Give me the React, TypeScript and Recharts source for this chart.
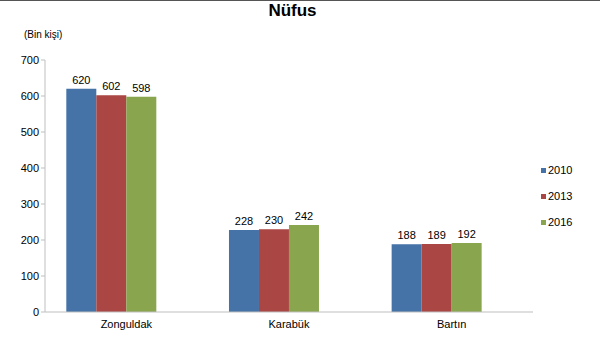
import React from "react";
import {
  BarChart,
  Bar,
  XAxis,
  YAxis,
  LabelList,
} from "recharts";

const provinces = ["Zonguldak", "Karabük", "Bartın"];
const years = ["2010", "2013", "2016"];
const pop2010 = [620, 228, 188];
const pop2013 = [602, 230, 189];
const pop2016 = [598, 242, 192];
const yTicks = [0, 100, 200, 300, 400, 500, 600, 700];
const colors = ["#4572A7", "#AA4643", "#89A54E"];

const data = provinces.map((name, i) => ({
  name,
  y2010: pop2010[i],
  y2013: pop2013[i],
  y2016: pop2016[i],
}));

const FONT = "'Liberation Sans', Arial, sans-serif";

export default function App() {
  return (
    <div
      style={{
        position: "absolute",
        left: 0,
        top: 0,
        width: 600,
        height: 356,
        background: "#fff",
        fontFamily: FONT,
      }}
    >
      {/* thin dark line at top */}
      <div
        style={{
          position: "absolute",
          left: 0,
          top: 0,
          width: 600,
          height: 1,
          background: "#555",
        }}
      />
      <div
        style={{
          position: "absolute",
          left: 0,
          top: 1,
          width: 585,
          textAlign: "center",
          fontSize: 17,
          fontWeight: "bold",
        }}
      >
        Nüfus
      </div>
      <div
        style={{
          position: "absolute",
          left: 24,
          top: 29,
          fontSize: 10,
        }}
      >
        (Bin kişi)
      </div>
      {/* legend */}
      <div
        style={{
          position: "absolute",
          left: 541,
          top: 157,
          fontSize: 11,
          color: "#000",
        }}
      >
        {years.map((y, i) => (
          <div
            key={y}
            style={{ display: "flex", alignItems: "center", height: 26 }}
          >
            <span
              style={{
                display: "inline-block",
                width: 5,
                height: 5,
                background: colors[i],
                marginRight: 2,
              }}
            />
            {y}
          </div>
        ))}
      </div>
      <BarChart
        width={600}
        height={356}
        data={data}
        margin={{ top: 60, right: 67, left: 5, bottom: 14 }}
        barCategoryGap="13.1%"
        barGap={0}
      >
        <XAxis
          xAxisId="edges"
          type="number"
          domain={[0, 3]}
          ticks={[0, 1, 2, 3]}
          tick={false}
          axisLine={false}
          tickLine={{ stroke: "#bfbfbf" }}
          tickSize={4}
          height={0}
          allowDataOverflow
        />
        <XAxis
          dataKey="name"
          axisLine={{ stroke: "#bfbfbf" }}
          tickLine={false}
          tick={{ fill: "#000", fontSize: 11, fontFamily: FONT }}
          height={30}
          interval={0}
        />
        <YAxis
          domain={[0, 700]}
          ticks={yTicks}
          width={40}
          axisLine={{ stroke: "#bfbfbf" }}
          tickLine={{ stroke: "#bfbfbf" }}
          tickSize={4}
          tick={{ fill: "#000", fontSize: 11, fontFamily: FONT }}
        />
        {["y2010", "y2013", "y2016"].map((key, i) => (
          <Bar
            key={key}
            dataKey={key}
            name={years[i]}
            fill={colors[i]}
            isAnimationActive={false}
          >
            <LabelList
              dataKey={key}
              position="top"
              offset={5}
              style={{ fill: "#000", fontSize: 11, fontFamily: FONT }}
            />
          </Bar>
        ))}
        {/* empty slot, the original leaves room for a fourth bar */}
        <Bar dataKey="empty" fill="none" isAnimationActive={false} />
      </BarChart>
    </div>
  );
}
